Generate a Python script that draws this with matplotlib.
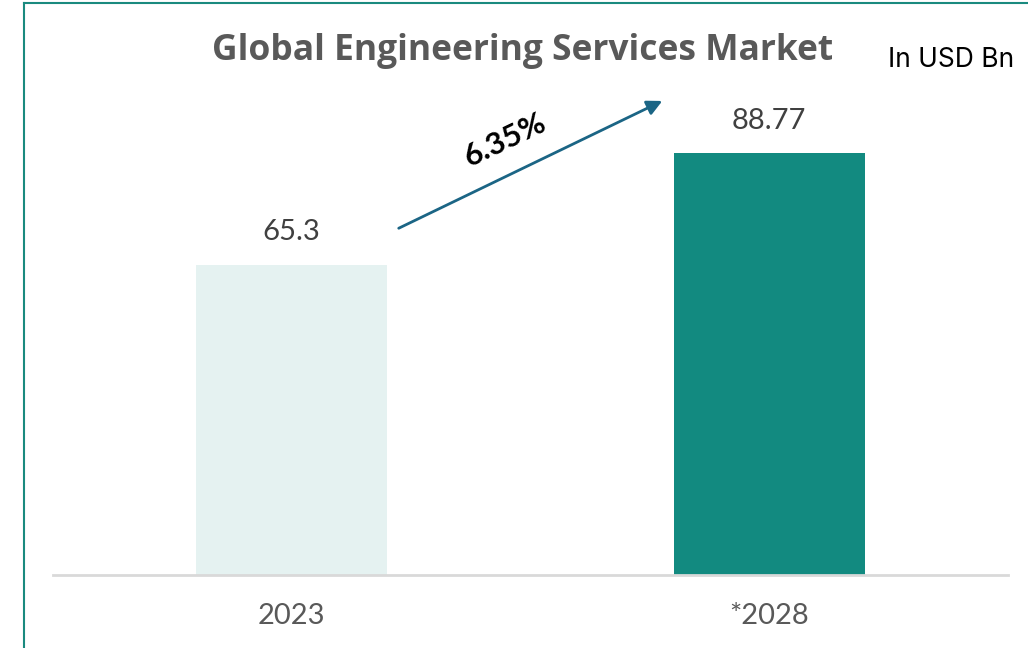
import matplotlib
matplotlib.use("Agg")
import matplotlib.pyplot as plt
from matplotlib.lines import Line2D

# Market size data (USD Bn)
years = ["2023", "*2028"]
values = [65.3, 88.77]
bar_colors = ["#e5f2f1", "#128a80"]
cagr_label = "6.35%"

W, H = 1028, 648
fig = plt.figure(figsize=(W / 100, H / 100), dpi=100)
fig.patch.set_facecolor("white")

# frame lines on the left and top edges
border = "#1a8a7f"
fig.add_artist(Line2D([24 / W, 24 / W], [0, 1 - 3 / H], color=border, lw=1.5, transform=fig.transFigure))
fig.add_artist(Line2D([24 / W, 1], [1 - 3 / H, 1 - 3 / H], color=border, lw=1.5, transform=fig.transFigure))

ax = fig.add_axes([53 / W, (H - 575) / H, 955 / W, 475 / H])
x = list(range(len(years)))
bars = ax.bar(x, values, width=0.4, color=bar_colors, zorder=2)
ax.set_xlim(-0.5, 1.5)
ax.set_ylim(0, 100)

for s in ["top", "right", "left"]:
    ax.spines[s].set_visible(False)
ax.spines["bottom"].set_color("#d9d9d9")
ax.spines["bottom"].set_linewidth(2)
ax.set_yticks([])
ax.set_xticks(x)
ax.set_xticklabels(years, fontsize=21, color="#595959", family="Lato")
ax.tick_params(axis="x", length=0, pad=20)

for b, v in zip(bars, values):
    ax.annotate(f"{v:g}", (b.get_x() + b.get_width() / 2, v), xytext=(0, 14),
                textcoords="offset points", ha="center", va="bottom",
                fontsize=21, color="#404040", family="Lato")

# growth arrow
ax.annotate("", xy=(0.776, 99.8), xytext=(0.224, 73.0),
            arrowprops=dict(arrowstyle="-|>,head_length=0.9,head_width=0.45",
                            color="#1b6585", lw=2, shrinkA=0, shrinkB=0),
            annotation_clip=False)
ax.text(0.448, 91.5, cagr_label, rotation=25.7, rotation_mode="anchor",
        ha="center", va="center", fontsize=22.5, fontweight="bold",
        color="black", family="Lato")

fig.text(523 / W, 1 - 51 / H, "Global Engineering Services Market", ha="center", va="center",
         fontsize=25.5, fontweight="bold", color="#595959", family="Open Sans")
fig.text(888 / W, 1 - 60 / H, "In USD Bn", ha="left", va="center",
         fontsize=19, color="black", family="Inter")

fig.savefig("out.png", dpi=100)
